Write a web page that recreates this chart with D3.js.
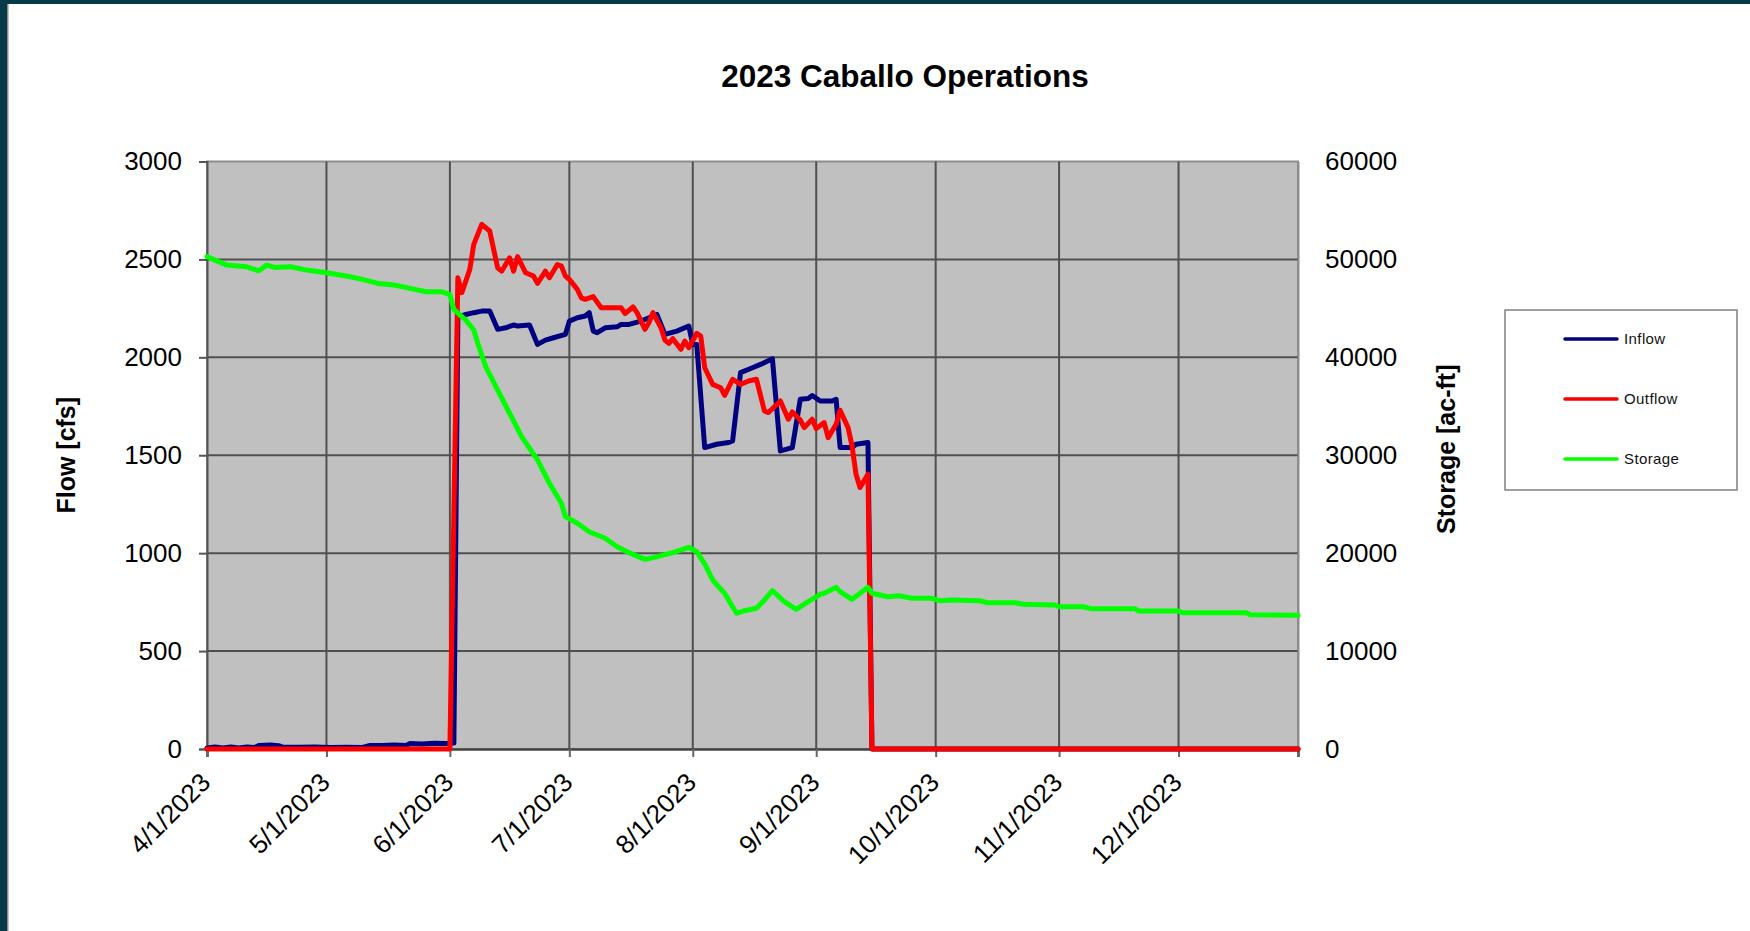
<!DOCTYPE html>
<html>
<head>
<meta charset="utf-8">
<script src="https://cdn.jsdelivr.net/npm/d3@7"></script>
<style>
  html, body { margin: 0; padding: 0; background: #fff; overflow: hidden; }
  svg { display: block; font-family: "Liberation Sans", Arial, sans-serif; }
</style>
</head>
<body>
<svg id="chart"></svg>
<script>
const title = '2023 Caballo Operations';
const seriesNames = ['Inflow', 'Outflow', 'Storage'];
const seriesColors = ['#000080', '#ff0000', '#00ff00'];
const monthTicks = ['4/1/2023', '5/1/2023', '6/1/2023', '7/1/2023', '8/1/2023',
    '9/1/2023', '10/1/2023', '11/1/2023', '12/1/2023'];
const dateRange = ['4/1/2023', '12/31/2023'];
const flowTicks = [0, 500, 1000, 1500, 2000, 2500, 3000];
const storageTicks = [0, 10000, 20000, 30000, 40000, 50000, 60000];

// inflow [cfs]
const inflow = [
    ['4/1/2023', 5], ['4/3/2023', 10], ['4/5/2023', 5], ['4/7/2023', 10], ['4/9/2023', 5],
    ['4/11/2023', 10], ['4/13/2023', 8], ['4/14/2023', 18], ['4/17/2023', 20], ['4/19/2023', 17],
    ['4/20/2023', 10], ['4/24/2023', 9], ['4/28/2023', 10], ['5/2/2023', 8], ['5/6/2023', 9],
    ['5/10/2023', 8], ['5/12/2023', 18], ['5/15/2023', 18], ['5/18/2023', 20], ['5/21/2023', 18],
    ['5/22/2023', 28], ['5/25/2023', 26], ['5/28/2023', 29], ['5/31/2023', 28], ['6/2/2023', 30],
    ['6/3/2023', 2205], ['6/5/2023', 2219], ['6/7/2023', 2228], ['6/9/2023', 2236], ['6/11/2023', 2236],
    ['6/13/2023', 2143], ['6/15/2023', 2151], ['6/17/2023', 2165], ['6/18/2023', 2160], ['6/21/2023', 2165],
    ['6/23/2023', 2066], ['6/25/2023', 2088], ['6/27/2023', 2100], ['6/30/2023', 2117], ['7/1/2023', 2185],
    ['7/3/2023', 2202], ['7/5/2023', 2211], ['7/6/2023', 2228], ['7/7/2023', 2134], ['7/8/2023', 2126],
    ['7/10/2023', 2151], ['7/13/2023', 2156], ['7/14/2023', 2168], ['7/16/2023', 2168], ['7/19/2023', 2185],
    ['7/21/2023', 2202], ['7/23/2023', 2219], ['7/25/2023', 2117], ['7/28/2023', 2134], ['7/31/2023', 2160],
    ['8/1/2023', 2066], ['8/2/2023', 2066], ['8/4/2023', 1539], ['8/7/2023', 1556], ['8/10/2023', 1565],
    ['8/11/2023', 1573], ['8/13/2023', 1922], ['8/16/2023', 1947], ['8/18/2023', 1964], ['8/21/2023', 1993],
    ['8/23/2023', 1522], ['8/26/2023', 1539], ['8/28/2023', 1786], ['8/30/2023', 1790], ['8/31/2023', 1805],
    ['9/2/2023', 1777], ['9/5/2023', 1777], ['9/6/2023', 1786], ['9/7/2023', 1539], ['9/10/2023', 1539],
    ['9/11/2023', 1556], ['9/14/2023', 1565], ['9/15/2023', 0], ['12/31/2023', 0]
];

// outflow [cfs]
const outflow = [
    ['4/1/2023', 0], ['6/1/2023', 0], ['6/3/2023', 2406], ['6/4/2023', 2330], ['6/6/2023', 2449],
    ['6/7/2023', 2577], ['6/9/2023', 2679], ['6/11/2023', 2645], ['6/13/2023', 2457], ['6/14/2023', 2440],
    ['6/16/2023', 2508], ['6/17/2023', 2440], ['6/18/2023', 2514], ['6/20/2023', 2432], ['6/22/2023', 2415],
    ['6/23/2023', 2378], ['6/25/2023', 2440], ['6/26/2023', 2406], ['6/28/2023', 2474], ['6/29/2023', 2466],
    ['6/30/2023', 2415], ['7/1/2023', 2398], ['7/3/2023', 2347], ['7/4/2023', 2304], ['7/5/2023', 2296],
    ['7/7/2023', 2310], ['7/9/2023', 2253], ['7/11/2023', 2253], ['7/14/2023', 2253], ['7/15/2023', 2224],
    ['7/17/2023', 2257], ['7/18/2023', 2228], ['7/20/2023', 2143], ['7/21/2023', 2177], ['7/22/2023', 2228],
    ['7/24/2023', 2151], ['7/25/2023', 2088], ['7/26/2023', 2071], ['7/27/2023', 2095], ['7/29/2023', 2041],
    ['7/30/2023', 2083], ['7/31/2023', 2049], ['8/2/2023', 2122], ['8/3/2023', 2109], ['8/4/2023', 1947],
    ['8/6/2023', 1862], ['8/8/2023', 1845], ['8/9/2023', 1806], ['8/11/2023', 1888], ['8/13/2023', 1862],
    ['8/15/2023', 1879], ['8/17/2023', 1888], ['8/19/2023', 1726], ['8/20/2023', 1718], ['8/23/2023', 1777],
    ['8/25/2023', 1684], ['8/26/2023', 1721], ['8/28/2023', 1680], ['8/29/2023', 1641], ['8/31/2023', 1684],
    ['9/1/2023', 1636], ['9/3/2023', 1667], ['9/4/2023', 1590], ['9/6/2023', 1658], ['9/7/2023', 1730],
    ['9/9/2023', 1641], ['9/10/2023', 1548], ['9/11/2023', 1403], ['9/12/2023', 1335], ['9/13/2023', 1369],
    ['9/14/2023', 1403], ['9/15/2023', 0], ['12/31/2023', 0]
];

// storage [ac-ft]
const storage = [
    ['4/1/2023', 50300], ['4/3/2023', 49930], ['4/6/2023', 49420], ['4/11/2023', 49250], ['4/14/2023', 48840],
    ['4/16/2023', 49420], ['4/18/2023', 49180], ['4/22/2023', 49250], ['4/26/2023', 48910], ['5/1/2023', 48640],
    ['5/6/2023', 48300], ['5/10/2023', 47960], ['5/14/2023', 47550], ['5/18/2023', 47380], ['5/22/2023', 47040],
    ['5/26/2023', 46700], ['5/30/2023', 46700], ['6/1/2023', 46400], ['6/2/2023', 44900], ['6/4/2023', 44150],
    ['6/5/2023', 43820], ['6/7/2023', 42790], ['6/8/2023', 41430], ['6/10/2023', 39050], ['6/13/2023', 36660],
    ['6/16/2023', 34290], ['6/19/2023', 31900], ['6/23/2023', 29520], ['6/26/2023', 27140], ['6/29/2023', 25090],
    ['6/30/2023', 23730], ['7/3/2023', 23050], ['7/6/2023', 22190], ['7/10/2023', 21520], ['7/13/2023', 20660],
    ['7/16/2023', 20050], ['7/20/2023', 19370], ['7/23/2023', 19640], ['7/27/2023', 20050], ['7/31/2023', 20600],
    ['8/2/2023', 20150], ['8/4/2023', 18900], ['8/6/2023', 17260], ['8/9/2023', 15900], ['8/11/2023', 14530],
    ['8/12/2023', 13860], ['8/14/2023', 14120], ['8/17/2023', 14370], ['8/19/2023', 15220], ['8/21/2023', 16170],
    ['8/24/2023', 15040], ['8/27/2023', 14270], ['8/30/2023', 15040], ['9/2/2023', 15800], ['9/3/2023', 15900],
    ['9/6/2023', 16510], ['9/7/2023', 16070], ['9/10/2023', 15290], ['9/12/2023', 15900], ['9/14/2023', 16510],
    ['9/15/2023', 15900], ['9/17/2023', 15730], ['9/19/2023', 15550], ['9/22/2023', 15640], ['9/25/2023', 15390],
    ['9/30/2023', 15390], ['10/2/2023', 15150], ['10/5/2023', 15220], ['10/12/2023', 15150], ['10/14/2023', 14940],
    ['10/21/2023', 14940], ['10/23/2023', 14780], ['10/31/2023', 14700], ['11/1/2023', 14530], ['11/7/2023', 14530],
    ['11/9/2023', 14330], ['11/20/2023', 14330], ['11/21/2023', 14090], ['12/1/2023', 14090], ['12/2/2023', 13920],
    ['12/18/2023', 13920], ['12/19/2023', 13720], ['12/31/2023', 13650]
];

const width = 1750,
    height = 931,
    plot = { left: 207, right: 1298, top: 161.5, bottom: 749 },
    parse = d3.utcParse('%m/%d/%Y'),
    fmt = d3.utcFormat('%-m/%-d/%Y'),
    numFmt = d3.format('d');

const svg = d3.select('#chart')
    .attr('width', width)
    .attr('height', height);

// frame
svg.append('rect').attr('x', 0).attr('y', 0).attr('width', width).attr('height', 4).attr('fill', '#063a49');
svg.append('rect').attr('x', 0).attr('y', 0).attr('width', 7).attr('height', height).attr('fill', '#063a49');
svg.append('rect').attr('x', 7).attr('y', 4).attr('width', 1.5).attr('height', height).attr('fill', '#8a8a8a');

// scales
const x = d3.scaleUtc()
    .domain(dateRange.map(parse))
    .range([plot.left, plot.right]);
const yFlow = d3.scaleLinear().domain([0, 3000]).range([plot.bottom, plot.top]);
const yStor = d3.scaleLinear().domain([0, 60000]).range([plot.bottom, plot.top]);

// plot area
svg.append('rect')
    .attr('x', plot.left)
    .attr('y', plot.top)
    .attr('width', plot.right - plot.left)
    .attr('height', plot.bottom - plot.top)
    .attr('fill', '#c0c0c0')
    .attr('stroke', '#8c8c8c')
    .attr('stroke-width', 2);

// grid
const grid = svg.append('g').attr('class', 'grid')
    .attr('stroke', '#505050')
    .attr('stroke-width', 2);
grid.selectAll('line.h')
    .data(flowTicks.filter(v => v > 0 && v < 3000))
    .enter().append('line')
    .attr('class', 'h')
    .attr('x1', plot.left).attr('x2', plot.right)
    .attr('y1', d => yFlow(d)).attr('y2', d => yFlow(d));
grid.selectAll('line.v')
    .data(monthTicks.slice(1).map(parse))
    .enter().append('line')
    .attr('class', 'v')
    .attr('x1', d => x(d)).attr('x2', d => x(d))
    .attr('y1', plot.top).attr('y2', plot.bottom);

// left axis
const leftAxis = svg.append('g')
    .attr('transform', `translate(${plot.left},0)`)
    .call(d3.axisLeft(yFlow).tickValues(flowTicks).tickFormat(numFmt).tickSize(8).tickPadding(17));
leftAxis.select('.domain').attr('stroke', '#555').attr('stroke-width', 2);
leftAxis.selectAll('.tick line').attr('stroke', '#555').attr('stroke-width', 2);
leftAxis.selectAll('.tick text')
    .attr('font-family', '"Liberation Sans", Arial, sans-serif')
    .attr('font-size', 26)
    .attr('fill', '#000');

// right axis
const rightAxis = svg.append('g')
    .attr('transform', `translate(${plot.right},0)`)
    .call(d3.axisRight(yStor).tickValues(storageTicks).tickFormat(numFmt).tickSize(0).tickPadding(27));
rightAxis.select('.domain').attr('stroke', '#8c8c8c').attr('stroke-width', 2);
rightAxis.selectAll('.tick text')
    .attr('font-family', '"Liberation Sans", Arial, sans-serif')
    .attr('font-size', 26)
    .attr('fill', '#000');

// bottom axis
const bottomAxis = svg.append('g')
    .attr('transform', `translate(0,${plot.bottom})`)
    .call(d3.axisBottom(x).tickValues(monthTicks.map(parse).concat([parse(dateRange[1])])).tickSize(8).tickFormat(''));
bottomAxis.select('.domain').attr('stroke', '#444').attr('stroke-width', 2.5);
bottomAxis.selectAll('.tick line').attr('stroke', '#666').attr('stroke-width', 2);

svg.append('g').attr('class', 'x-labels')
    .selectAll('text')
    .data(monthTicks.map(parse))
    .enter().append('text')
    .attr('transform', d => `translate(${x(d) + 5},${plot.bottom + 35})rotate(-45)`)
    .attr('text-anchor', 'end')
    .attr('font-size', 26)
    .attr('fill', '#000')
    .text(d => fmt(d));

// series
const series = [inflow, outflow, storage].map(arr => arr.map(([d, v]) => ({ date: parse(d), value: v })));
const lineFlow = d3.line().x(d => x(d.date)).y(d => yFlow(d.value));
const lineStor = d3.line().x(d => x(d.date)).y(d => yStor(d.value));

svg.append('g').attr('class', 'series')
    .selectAll('path')
    .data(series)
    .enter().append('path')
    .attr('fill', 'none')
    .attr('stroke', (d, i) => seriesColors[i])
    .attr('stroke-width', 5)
    .attr('stroke-linejoin', 'round')
    .attr('stroke-linecap', 'round')
    .attr('d', (d, i) => i === 2 ? lineStor(d) : lineFlow(d));

// title
svg.append('text')
    .attr('x', 905)
    .attr('y', 87)
    .attr('text-anchor', 'middle')
    .attr('font-size', 31.5)
    .attr('font-weight', 'bold')
    .text(title);

// axis titles
svg.append('text')
    .attr('transform', `translate(75,${(plot.top + plot.bottom) / 2})rotate(-90)`)
    .attr('text-anchor', 'middle')
    .attr('font-size', 25)
    .attr('font-weight', 'bold')
    .text('Flow [cfs]');
svg.append('text')
    .attr('transform', `translate(1455,${(plot.top + plot.bottom) / 2 - 6})rotate(-90)`)
    .attr('text-anchor', 'middle')
    .attr('font-size', 25)
    .attr('font-weight', 'bold')
    .text('Storage [ac-ft]');

// legend
const legend = svg.append('g').attr('class', 'legend');
legend.append('rect')
    .attr('x', 1505).attr('y', 310)
    .attr('width', 232).attr('height', 180)
    .attr('fill', '#fff')
    .attr('stroke', '#808080')
    .attr('stroke-width', 1.5);
const items = legend.selectAll('g.item')
    .data(seriesNames)
    .enter().append('g')
    .attr('class', 'item')
    .attr('transform', (d, i) => `translate(1565,${339 + i * 60})`);
items.append('line')
    .attr('x1', 0).attr('x2', 52)
    .attr('stroke', (d, i) => seriesColors[i])
    .attr('stroke-width', 3.5)
    .attr('stroke-linecap', 'round');
items.append('text')
    .attr('x', 59)
    .attr('dy', '0.35em')
    .attr('font-size', 15)
    .attr('letter-spacing', 0.4)
    .attr('fill', '#111')
    .text(d => d);
</script>
</body>
</html>
